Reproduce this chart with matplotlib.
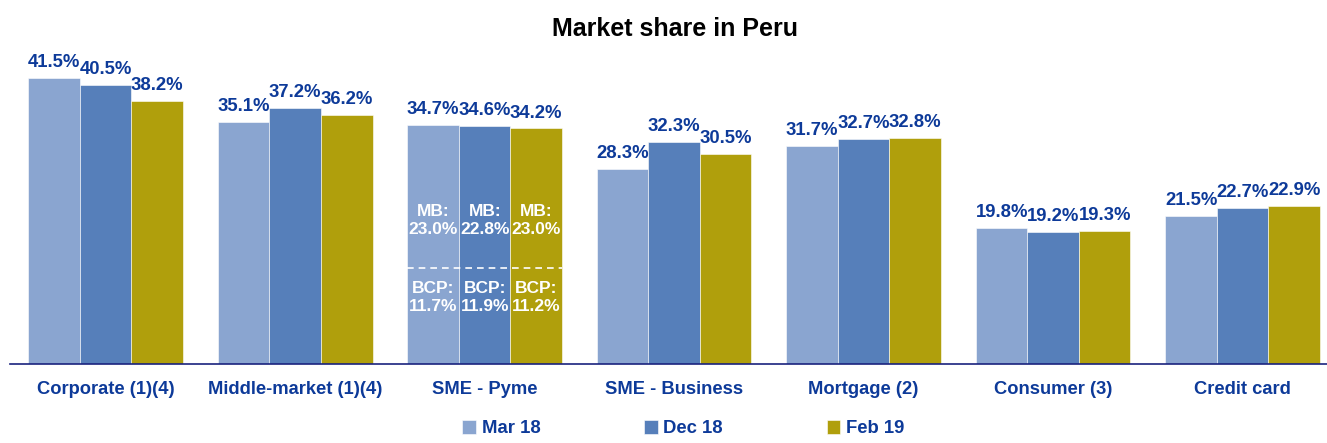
import matplotlib.pyplot as plt
import numpy as np

plt.rcParams["font.family"] = ["Liberation Sans", "DejaVu Sans"]

categories = ["Corporate (1)(4)", "Middle-market (1)(4)", "SME - Pyme", "SME - Business",
              "Mortgage (2)", "Consumer (3)", "Credit card"]
series_names = ["Mar 18", "Dec 18", "Feb 19"]
mar18 = [41.5, 35.1, 34.7, 28.3, 31.7, 19.8, 21.5]
dec18 = [40.5, 37.2, 34.6, 32.3, 32.7, 19.2, 22.7]
feb19 = [38.2, 36.2, 34.2, 30.5, 32.8, 19.3, 22.9]
pyme_mb = [23.0, 22.8, 23.0]
pyme_bcp = [11.7, 11.9, 11.2]

colors = ["#8aa5d0", "#567fba", "#b09f0c"]
label_color = "#0d3a99"

fig = plt.figure(figsize=(13.27, 4.43), dpi=100)
ax = fig.add_axes([10 / 1327, 0.178, 1317 / 1327, 0.70])

x = np.arange(len(categories))
width = 0.272
for i, (name, vals) in enumerate(zip(series_names, [mar18, dec18, feb19])):
    pos = x + (i - 1) * width
    bars = ax.bar(pos, vals, width, color=colors[i], label=name, edgecolor="white", linewidth=0.4)
    for b, v in zip(bars, vals):
        ax.annotate(f"{v:.1f}%", (b.get_x() + b.get_width() / 2, v), xytext=(0, 5),
                    textcoords="offset points", ha="center", va="bottom",
                    fontsize=13.3, fontweight="bold", color=label_color)

# SME - Pyme breakdown
pyme = categories.index("SME - Pyme")
for i in range(3):
    px = pyme + (i - 1) * width
    ax.text(px, 20.9, f"MB:\n{pyme_mb[i]:.1f}%", ha="center", va="center",
            color="white", fontsize=12.5, fontweight="bold", linespacing=1.25)
    ax.text(px, 9.6, f"BCP:\n{pyme_bcp[i]:.1f}%", ha="center", va="center",
            color="white", fontsize=12.5, fontweight="bold", linespacing=1.25)
ax.plot([pyme - 1.5 * width, pyme + 1.5 * width], [14, 14], color="white",
        linestyle=(0, (4, 3)), linewidth=1.2)

ax.set_xlim(-0.505, 6.445)
ax.set_ylim(0, 45)
ax.set_yticks([])
ax.set_xticks(x)
ax.set_xticklabels(categories, fontsize=13.2, fontweight="bold", color=label_color)
ax.tick_params(axis="x", length=0, pad=12)
for s in ["top", "right", "left"]:
    ax.spines[s].set_visible(False)
ax.spines["bottom"].set_color("#1a237e")
ax.spines["bottom"].set_linewidth(1.2)

fig.suptitle("Market share in Peru", x=0.509, y=0.962, fontsize=18, fontweight="bold")

leg = fig.legend(loc="lower center", bbox_to_anchor=(0.515, -0.025), ncol=3, frameon=False,
                 handlelength=0.75, handleheight=0.75, handletextpad=0.3, columnspacing=5.6,
                 prop={"size": 13.3, "weight": "bold"})
for t in leg.get_texts():
    t.set_color(label_color)

fig.savefig("out.png", dpi=100)
